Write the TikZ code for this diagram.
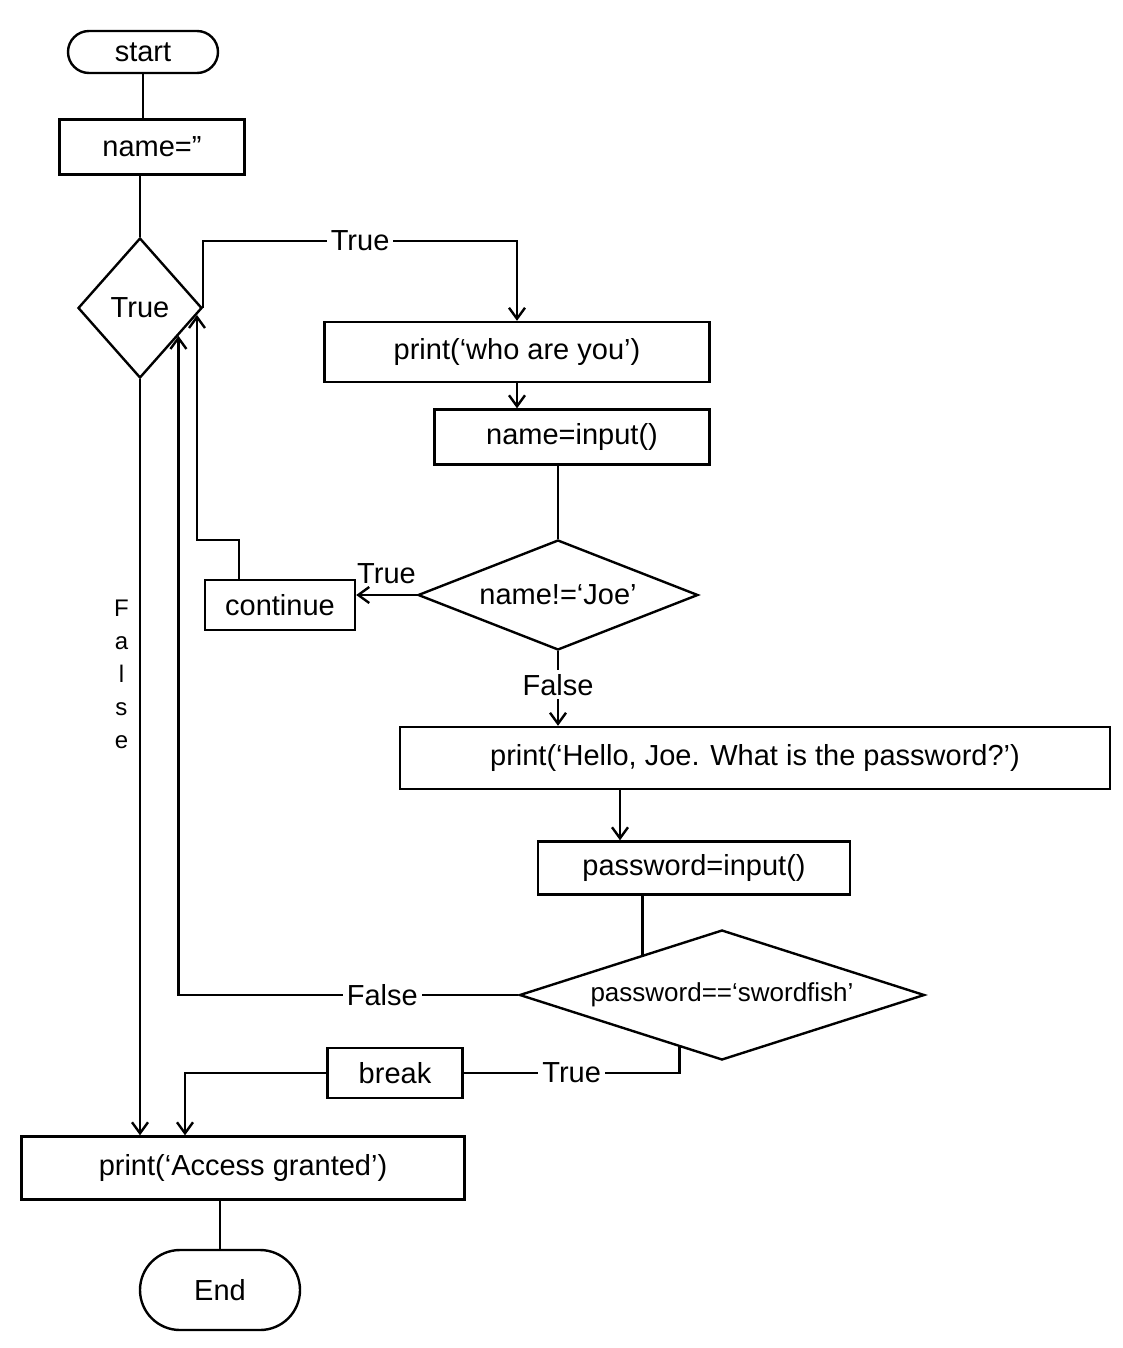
\documentclass[tikz,border=0pt]{standalone}
\usepackage{fontspec}
\setmainfont{Liberation Sans}
\usetikzlibrary{shapes.geometric,shapes.misc,arrows.meta,calc}
\begin{document}
\begin{tikzpicture}[x=1pt,y=-1pt, line width=2.4pt,
  >={Straight Barb[length=11pt,width=16pt]},
  every node/.style={font=\fontsize{29}{34}\selectfont},
  box/.style={draw, rectangle, inner sep=0pt},
  term/.style={draw, rounded rectangle, inner sep=0pt},
  dec/.style={draw, diamond, inner sep=0pt},
  lbl/.style={fill=white, inner sep=4pt}]

\useasboundingbox[fill=white] (0,0) rectangle (1122,1348);

% nodes
\node[term, minimum width=150pt, minimum height=42pt] (start) at (143,52) {start};
\node[box, minimum width=185pt, minimum height=55pt] (name) at (152,147) {name=''};
\node[dec, aspect=0.9, minimum width=124pt, minimum height=140pt] (T) at (140,308) {True};
\node[box, minimum width=385pt, minimum height=60pt] (who) at (517,352) {print(`who are you')};
\node[box, minimum width=275pt, minimum height=55pt] (inp) at (572,437) {name=input()};
\node[dec, aspect=2.5, minimum width=280pt, minimum height=110pt] (ne) at (558,595) {name!=`Joe'};
\node[box, minimum width=150pt, minimum height=50pt] (cont) at (280,605) {continue};
\node[box, minimum width=710pt, minimum height=62pt] (hello) at (755,758) {print(`Hello, Joe. What is the password?')};
\node[box, minimum width=312pt, minimum height=53pt] (pwin) at (694,868) {password=input()};
\node[dec, aspect=3.1, minimum width=405pt, minimum height=130pt, font=\fontsize{26}{30}\selectfont] (pw) at (722,995) {password==`swordfish'};
\node[box, minimum width=135pt, minimum height=50pt] (brk) at (395,1073) {break};
\node[box, minimum width=443pt, minimum height=63pt] (acc) at (243,1168) {print(`Access granted')};
\node[term, minimum width=160pt, minimum height=80pt] (end) at (220,1290) {End};

% connectors
\draw (start.south) -- (start.south |- name.north);
\draw (name.south -| T.north) -- (T.north);
\draw[->] (T.east) |- node[lbl, pos=0.75]{True} ($(who.north)+(0,-80)$) -- (who.north);
\draw[->] (who.south) -- (who.south |- inp.north);
\draw (inp.south -| ne.north) -- (ne.north);
\draw[->] (ne.west) -- node[above=10pt, inner sep=0pt]{True} (ne.west -| cont.east);
\draw[->] ($(cont.north west)+(35,0)$) |- ($(T.353)+(0,225)$) -- (T.353);
\draw[->] (ne.south) -- node[lbl, pos=0.45]{False} (ne.south |- hello.north);
\coordinate (pwtop) at ($(pwin.north)+(-74,0)$);
\draw[->] (hello.south -| pwtop) -- (pwtop);
\draw (pwin.south -| pw.153) -- (pw.153);
\draw[->] (pw.west) -| node[lbl, pos=0.2]{False} (T.324);
\draw (pw.231) |- node[lbl, pos=0.75]{True} (brk.east);
\draw[->] (brk.west) -| ($(acc.north)+(-58,0)$);
\draw[->] (T.south) -- node[pos=0.39, left=10pt, align=center, inner sep=0pt, font=\fontsize{24}{33}\selectfont]{F\\a\\l\\s\\e} (T.south |- acc.north);
\draw (acc.south -| end.north) -- (end.north);
\end{tikzpicture}
\end{document}
